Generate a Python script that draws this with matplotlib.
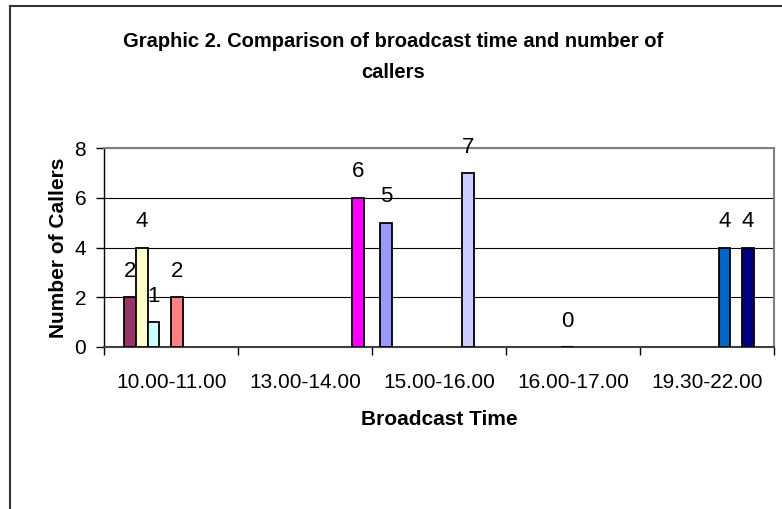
import matplotlib
matplotlib.use("Agg")
import matplotlib.pyplot as plt
from matplotlib.lines import Line2D

plt.rcParams['font.family'] = ['Liberation Sans', 'DejaVu Sans']

categories = ["10.00-11.00", "13.00-14.00", "15.00-16.00", "16.00-17.00", "19.30-22.00"]

# ten Excel series, each one only has a value in one time slot
s1 = [None, None, 5, None, None]
s2 = [2, None, None, None, None]
s3 = [4, None, None, None, None]
s4 = [1, None, None, None, None]
s5 = [None, None, None, 0, None]
s6 = [2, None, None, None, None]
s7 = [None, None, None, None, 4]
s8 = [None, None, 7, None, None]
s9 = [None, None, None, None, 4]
s10 = [None, 6, None, None, None]
series = [s1, s2, s3, s4, s5, s6, s7, s8, s9, s10]

colors = ['#9999FF', '#993366', '#FFFFCC', '#CCFFFF', '#660066',
          '#FF8080', '#0066CC', '#CCCCFF', '#000080', '#FF00FF']

fig = plt.figure(figsize=(7.82, 5.09), dpi=100)
ax = fig.add_axes([104.3/782, 162/509, 669.4/782, 199/509])

n = len(series)
w = 1.0 / (n + 1.4)
for k, vals in enumerate(series):
    for c, v in enumerate(vals):
        if v is None:
            continue
        x = c + (k - (n - 1) / 2) * w
        ax.bar(x, v, width=w, color=colors[k], edgecolor='black', linewidth=1.3, zorder=3)
        ax.annotate(str(v), (x, v), xytext=(0, 11), textcoords='offset points',
                    ha='center', va='bottom', fontsize=16, zorder=4)

ax.set_xlim(-0.5, len(categories) - 0.5)
ax.set_ylim(0, 8)
ax.set_yticks([0, 2, 4, 6, 8])
ax.grid(axis='y', color='black', linewidth=0.8, zorder=0)

ax.set_xticks([i - 0.5 for i in range(len(categories) + 1)])
ax.set_xticklabels([])
ax.set_xticks(range(len(categories)), minor=True)
ax.set_xticklabels(categories, minor=True, fontsize=15)
ax.tick_params(axis='x', which='major', direction='out', length=6, width=1)
ax.tick_params(axis='x', which='minor', length=0, pad=19)
ax.tick_params(axis='y', direction='out', length=6, width=1, labelsize=15, pad=7)

for side in ['top', 'right']:
    ax.spines[side].set_color('#808080')
    ax.spines[side].set_linewidth(1.5)
ax.spines['left'].set_linewidth(1)
ax.spines['bottom'].set_linewidth(1.5)
ax.spines['bottom'].set_color('#404040')

ax.set_ylabel("Number of Callers", fontsize=15, fontweight='bold', labelpad=5)
ax.set_xlabel("Broadcast Time", fontsize=15, fontweight='bold', labelpad=13)

fig.text(393/782, 1 - 57/509, "Graphic 2. Comparison of broadcast time and number of\ncallers",
         ha='center', va='center', fontsize=14.5, fontweight='bold', linespacing=1.8)

# outer chart frame, cut off at right and bottom like the original
fig.add_artist(Line2D([10/782, 10/782], [0, 1 - 6/509], color='#333333', linewidth=1.5))
fig.add_artist(Line2D([10/782, 1], [1 - 6/509, 1 - 6/509], color='#333333', linewidth=1.5))

fig.savefig("out.png", dpi=100)
